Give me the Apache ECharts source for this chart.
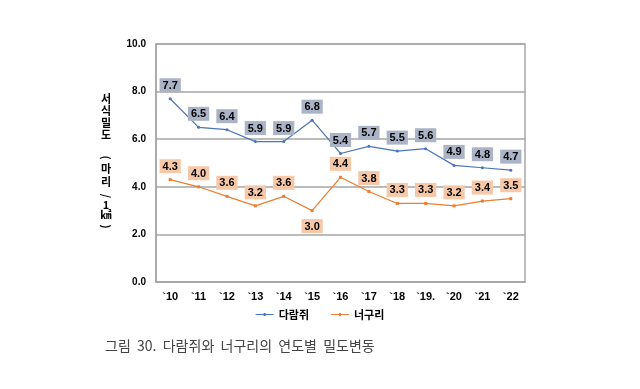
<!DOCTYPE html>
<html><head><meta charset="utf-8">
<script src="https://cdn.jsdelivr.net/npm/echarts@6/dist/echarts.min.js"></script>
<style>html,body{margin:0;padding:0;background:#fff}#c{width:640px;height:389px}</style>
</head><body><div id="c"></div>
<script>
const categories = ['`10','`11','`12','`13','`14','`15','`16','`17','`18','`19.','`20','`21','`22'];
const squirrel = [7.7,6.5,6.4,5.9,5.9,6.8,5.4,5.7,5.5,5.6,4.9,4.8,4.7];
const raccoon = [4.3,4.0,3.6,3.2,3.6,3.0,4.4,3.8,3.3,3.3,3.2,3.4,3.5];
const yTicks = [0,2,4,6,8,10];
const names = ['다람쥐','너구리'];
const yTitleChars = ['서','식','밀','도','(','마','리','/','1','㎢',')'];
const yTitleCenters = [98.5,111,123,134.5,157.5,169,182,196,205,215,226.5];

const chart = echarts.init(document.getElementById('c'));
const lblStyle = (bg) => ({show:true, position:'top', distance:5, formatter:p=>p.value.toFixed(1),
  color:'#000', fontWeight:'bold', fontSize:11, fontFamily:'Liberation Sans, Arial, sans-serif',
  backgroundColor:bg, padding:[2,3,1,3]});
const titleGraphics = yTitleChars.map((ch,i)=>({
  type:'text', x:106, y:yTitleCenters[i],
  rotation: (ch==='('||ch===')'||ch==='/') ? -Math.PI/2 : 0,
  style:{text:ch, fontSize:11, fontWeight:'bold', fill:'#000', fontFamily:'Noto Sans CJK KR', align:'center', verticalAlign:'middle'}
}));
const rData = raccoon.map((v,i)=> i===5 ? {value:v, label:{position:'bottom', distance:7}} : v);
chart.setOption({
  backgroundColor:'#fff',
  animation:false,
  grid:{left:156, right:115, top:44, bottom:107, show:true, borderColor:'#a6a6a6', borderWidth:1.5, backgroundColor:'transparent'},
  legend:{bottom:64, left:'center', itemWidth:18, itemHeight:6, itemGap:22,
    textStyle:{fontSize:11, fontWeight:'bold', color:'#000', fontFamily:'Noto Sans CJK KR'},
    data:names.map(n=>({name:n, icon:'path://M0,2.5L18,2.5L18,3.5L0,3.5Z M8,1.5L10,1.5L10,4.5L8,4.5Z'}))},
  xAxis:{type:'category', data:categories, boundaryGap:true,
    axisLine:{lineStyle:{color:'#a6a6a6', width:1.5}}, axisTick:{show:false},
    axisLabel:{color:'#000', fontWeight:'bold', fontSize:11, margin:9, fontFamily:'Liberation Sans, Arial, sans-serif'}},
  yAxis:{type:'value', min:0, max:10, interval:2,
    axisLine:{show:true, lineStyle:{color:'#a6a6a6', width:1.5}}, axisTick:{show:false},
    splitLine:{lineStyle:{color:'#a6a6a6', width:1.5}},
    axisLabel:{color:'#000', fontWeight:'bold', fontSize:10, margin:10, formatter:v=>v.toFixed(1), fontFamily:'Liberation Sans, Arial, sans-serif'}},
  series:[
    {name:names[0], type:'line', data:squirrel, color:'#4a74b8', symbol:'circle', symbolSize:3,
      lineStyle:{width:1.2, color:'#4a74b8'}, label:lblStyle('#aab4c6')},
    {name:names[1], type:'line', data:rData, color:'#ed7d31', symbol:'rect', symbolSize:3,
      lineStyle:{width:1.2, color:'#ed7d31'}, label:lblStyle('#f7c8a8')}
  ],
  graphic:[...titleGraphics,
    {type:'text', x:105, y:346, style:{text:'그림  30.  다람쥐와  너구리의  연도별  밀도변동', fontSize:14, fill:'#444', fontFamily:'Noto Sans CJK KR', verticalAlign:'middle'}}]
});
</script></body></html>
